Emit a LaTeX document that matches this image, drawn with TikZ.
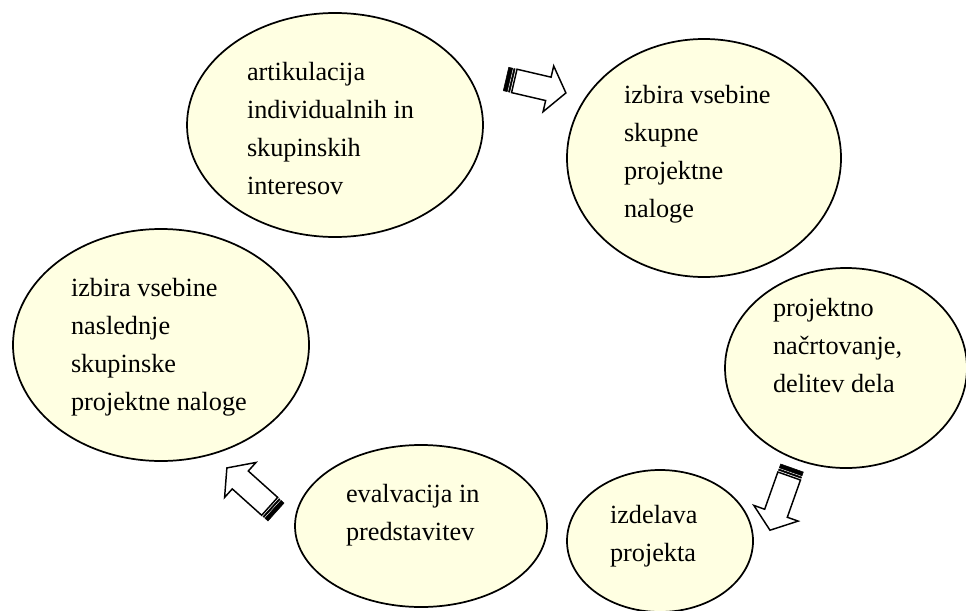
\documentclass[tikz,border=0pt]{standalone}
\usepackage{fontspec}
\setmainfont{Liberation Serif}
\usetikzlibrary{shapes.geometric}
\definecolor{bubble}{RGB}{255,255,226}
\tikzset{
  bub/.style={ellipse, draw=black, fill=bubble, line width=1.3pt, inner sep=0pt, outer sep=0pt},
  txt/.style={anchor=base west, inner sep=0pt, outer sep=0pt, align=left,
    font=\fontsize{19.7}{28.4}\selectfont},
  arrowbody/.style={draw=black, fill=white, line width=1.1pt, line join=miter},
  stripe/.style={fill=black, draw=black, line width=0.4pt}
}
\newcommand\stripedarrow[4]{%
  \begin{scope}[shift={(#1,#2)}, rotate=#3]
    \draw[arrowbody] (8.5,-12) -- (#4-18,-12) -- (#4-18,-23.5) -- (#4,0)
      -- (#4-18,23.5) -- (#4-18,12) -- (8.5,12) -- cycle;
    \path[stripe] (0,-12) rectangle (4,12);
    \path[stripe] (5.3,-12) rectangle (6.6,12);
  \end{scope}}
\begin{document}
\begin{tikzpicture}[x=0.75pt,y=-0.75pt]
  \useasboundingbox (0,0) rectangle (966,610);
  \fill[white] (0,0) rectangle (966,610);
  \clip (0,0) rectangle (966,610);

  \node[bub, minimum width=222pt, minimum height=168pt] (e1) at (335,125) {};
  \node[bub, minimum width=205.5pt, minimum height=178.5pt] (e2) at (704,158) {};
  \node[bub, minimum width=181.5pt, minimum height=150pt] (e3) at (846,368) {};
  \node[bub, minimum width=222pt, minimum height=174pt] (e4) at (161,345) {};
  \node[bub, minimum width=189pt, minimum height=121.5pt] (e5) at (421,526) {};
  \node[bub, minimum width=139.5pt, minimum height=106.5pt] (e6) at (660,541) {};

  % anchors are at the baseline of the last line
  \node[txt] (t1) at (247,194) {artikulacija\\individualnih in\\skupinskih\\interesov};
  \node[txt] (t2) at (624,217) {izbira vsebine\\skupne\\projektne\\naloge};
  \node[txt] (t3) at (773,392) {projektno\\načrtovanje,\\delitev dela};
  \node[txt] (t4) at (71,410) {izbira vsebine\\naslednje\\skupinske\\projektne naloge};
  \node[txt] (t5) at (346,540) {evalvacija in\\predstavitev};
  \node[txt] (t6) at (610,561) {izdelava\\projekta};

  \stripedarrow{506}{79}{-13.1}{61.5}
  \stripedarrow{792}{468}{-109.5}{66}
  \stripedarrow{276}{512}{138.1}{66}
\end{tikzpicture}
\end{document}
